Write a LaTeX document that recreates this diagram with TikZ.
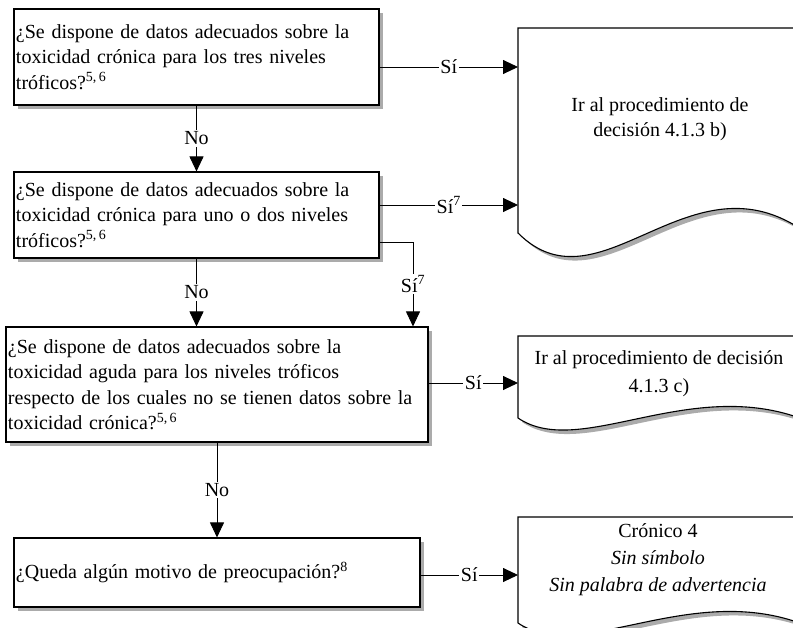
\documentclass[tikz,border=0pt]{standalone}
\usepackage{fontspec}
\setmainfont{Liberation Serif}
\usetikzlibrary{arrows.meta,shadows}

\begin{document}
\begin{tikzpicture}[x=1pt,y=-1pt,
  font=\fontsize{20}{25.5}\selectfont,
  shade/.style={drop shadow={shadow xshift=4pt,shadow yshift=-4pt,fill=black!55,opacity=.6}},
  box/.style={draw,line width=1.1pt,fill=white,align=left,inner sep=2pt,shade},
  doc/.style={draw,line width=1.1pt,fill=white,shade},
  flow/.style={line width=.9pt,-{Triangle[length=15pt,width=14pt]}},
  lbl/.style={fill=white,inner sep=1.5pt}]
\useasboundingbox (0,0) rectangle (793,627);
\clip (0,0) rectangle (793,627);
% questions
\node[box,text width=361pt,minimum height=96pt] (q1) at (196.5,57)
  {¿Se dispone de datos adecuados sobre la\\toxicidad crónica para los tres niveles\\tróficos?\textsuperscript{5,\,6}};
\node[box,text width=361pt,minimum height=86pt] (q2) at (196.5,215)
  {¿Se dispone de datos adecuados sobre la\\toxicidad crónica para uno o dos niveles\\tróficos?\textsuperscript{5,\,6}};
\node[box,text width=418pt,minimum height=115pt] (q3) at (217,384.5)
  {¿Se dispone de datos adecuados sobre la\\toxicidad aguda para los niveles tróficos\\respecto de los cuales no se tienen datos sobre la\\toxicidad crónica?\textsuperscript{5,\,6}};
\node[box,text width=402pt,minimum height=69pt] (q4) at (217,572.5)
  {¿Queda algún motivo de preocupación?\textsuperscript{8}};
% documents
\draw[doc] (518,28) -- (805,28) -- (805,232) .. controls (690,150) and (600,315) .. (518,233) -- cycle;
\draw[doc] (518,336) -- (805,336) -- (805,420) .. controls (690,375) and (580,460) .. (518,418) -- cycle;
\draw[doc] (518,517) -- (805,517) -- (805,625) .. controls (690,580) and (580,665) .. (518,623) -- cycle;
\node[align=center] (d1) at (660,119) {Ir al procedimiento de\\decisión 4.1.3 b)};
\node[align=center,font=\fontsize{20}{28}\selectfont] (d2) at (659,374) {Ir al procedimiento de decisión\\4.1.3 c)};
\node[align=center,font=\fontsize{20}{27}\selectfont] (d3) at (658,560) {Crónico 4\\\textit{Sin símbolo}\\\textit{Sin palabra de advertencia}};
\coordinate (a1) at (518,67); \coordinate (a2) at (518,205);
\coordinate (a3) at (518,383); \coordinate (a4) at (518,575);
\coordinate (b7) at (413,242);
% connectors
\draw[flow] (q1.east |- a1) -- node[lbl] {Sí} (a1);
\draw[flow] (q2.east |- a2) -- node[lbl] {Sí\textsuperscript{7}} (a2);
\draw[flow] (q3.east |- a3) -- node[lbl] {Sí} (a3);
\draw[flow] (q4.east |- a4) -- node[lbl] {Sí} (a4);
\draw[flow] (q2.east |- b7) -- (b7) -- node[lbl] {Sí\textsuperscript{7}} (b7 |- q3.north);
\draw[flow] (q1.south) -- node[lbl] {No} (q2.north);
\draw[flow] (q2.south) -- node[lbl] {No} (q2.south |- q3.north);
\draw[flow] (q3.south) -- node[lbl] {No} (q4.north);
\end{tikzpicture}
\end{document}
